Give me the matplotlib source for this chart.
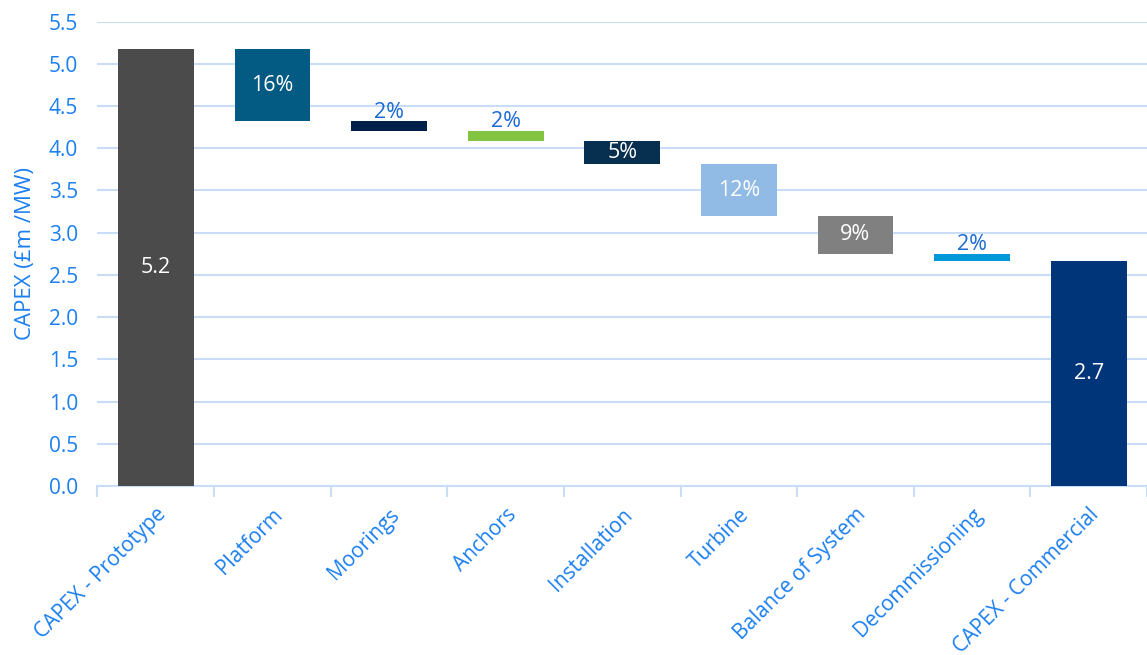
import matplotlib
matplotlib.use("Agg")
import matplotlib.pyplot as plt
import numpy as np

categories = ["CAPEX - Prototype", "Platform", "Moorings", "Anchors", "Installation",
              "Turbine", "Balance of System", "Decommissioning", "CAPEX - Commercial"]
start_total = 5.17
reductions = [0.85, 0.11, 0.12, 0.28, 0.61, 0.45, 0.09]
end_total = 2.66
labels = ["5.2", "16%", "2%", "2%", "5%", "12%", "9%", "2%", "2.7"]
colors = ["#4b4b4b", "#035a82", "#00204a", "#82c341", "#062f50",
          "#91bae4", "#808080", "#0098d8", "#003579"]
label_inside = [True, True, False, False, True, True, True, False, True]

plt.rcParams['font.family'] = ['Open Sans', 'DejaVu Sans']
blue = "#1a7ff0"
lblue = "#1a6ad6"

fig = plt.figure(figsize=(11.47, 6.55), dpi=100)
ax = fig.add_axes([0.085, 0.258, 0.915, 0.709])

bottoms, heights = [0.0], [start_total]
level = start_total
for r in reductions:
    level -= r
    bottoms.append(level)
    heights.append(r)
bottoms.append(0.0)
heights.append(end_total)

x = np.arange(len(categories))
ax.bar(x, heights, bottom=bottoms, width=0.65, color=colors, zorder=3)

for i in range(len(categories)):
    if label_inside[i]:
        ax.text(x[i], bottoms[i] + heights[i] / 2, labels[i], ha='center', va='center',
                color='white', fontsize=15.5, zorder=4)
    else:
        ax.text(x[i], bottoms[i] + heights[i] - 0.015, labels[i], ha='center', va='bottom',
                color=lblue, fontsize=15.5, zorder=4)

ax.set_xlim(-0.5, len(categories) - 0.5)
ax.set_ylim(0, 5.5)
ax.set_yticks(np.arange(0, 5.51, 0.5))
ax.set_yticklabels([f"{v:.1f}" for v in np.arange(0, 5.51, 0.5)], color=blue, fontsize=15)
ax.yaxis.grid(True, color="#c9def6", linewidth=1.5, zorder=0)
ax.tick_params(axis='y', length=0, pad=14)

ax.set_xticks(x)
ax.set_xticklabels(categories, rotation=45, ha='right', rotation_mode='anchor',
                   color=blue, fontsize=15)
ax.tick_params(axis='x', which='major', length=0, pad=13)
ax.set_xticks(np.arange(-0.5, len(categories), 1.0), minor=True)
ax.tick_params(axis='x', which='minor', length=8, color="#c9def6", width=1.5)

for s in ['top', 'right', 'left']:
    ax.spines[s].set_visible(False)
ax.spines['bottom'].set_color("#c9def6")
ax.spines['bottom'].set_linewidth(1.5)

ax.set_ylabel("CAPEX (£m /MW)", color=blue, fontsize=16, labelpad=9)

fig.savefig("out.png", dpi=100)
